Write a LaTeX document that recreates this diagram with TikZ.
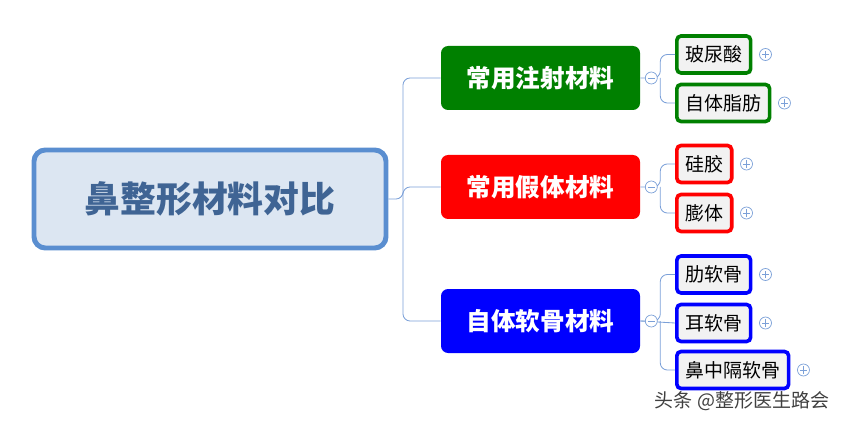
\documentclass[tikz,border=0pt]{standalone}
\usepackage{fontspec}
\setmainfont{Noto Sans CJK SC}
\usetikzlibrary{positioning}
\definecolor{rootfill}{HTML}{DCE6F2}
\definecolor{rootline}{HTML}{5A8ED0}
\definecolor{roottext}{HTML}{3F6494}
\definecolor{linkline}{HTML}{7BA0D8}
\definecolor{leaffill}{HTML}{F2F2F2}
\definecolor{mgreen}{HTML}{008000}
\definecolor{mred}{HTML}{FF0000}
\definecolor{mblue}{HTML}{0000FF}
\begin{document}
\begin{tikzpicture}[x=0.025cm, y=-0.025cm,
    rootbox/.style={rectangle, rounded corners=8pt, draw=rootline, line width=3.5pt, fill=rootfill,
        text=roottext, font=\fontsize{25.5}{28}\selectfont\bfseries},
    midbox/.style={rectangle, rounded corners=5pt, fill=#1, text=white, minimum width=199*0.025cm,
        minimum height=64*0.025cm, font=\fontsize{17.5}{20}\selectfont\bfseries},
    leafbox/.style={rectangle, rounded corners=3pt, draw=#1, line width=2.6pt, fill=leaffill,
        minimum height=37*0.025cm, anchor=west, inner xsep=6pt, font=\fontsize{13.5}{15}\selectfont},
    toggle/.style={circle, draw=linkline, fill=white, inner sep=0pt, minimum size=12*0.025cm, line width=0.5pt},
    link/.style={draw=linkline, line width=0.6pt, rounded corners=5pt}
]
    \useasboundingbox (0,0) rectangle (845,425);
    \node[rootbox, minimum width=352*0.025cm, minimum height=98*0.025cm] (root) at (210,199) {鼻整形材料对比};
    \node[midbox=mgreen] (inj) at (540.5,78) {常用注射材料};
    \node[midbox=mred] (imp) at (540.5,187) {常用假体材料};
    \node[midbox=mblue] (aut) at (540.5,321) {自体软骨材料};

    \draw[link] (root.east) -- (403,199) |- (inj.west);
    \draw[link] (403,199) |- (aut.west);
    \draw[link] (403,199) |- (imp.west);

    % leaves
    \node[leafbox=mgreen] (hya) at (675,54.5) {玻尿酸};
    \node[leafbox=mgreen] (fat) at (675,103) {自体脂肪};
    \node[leafbox=mred] (sil) at (675,164) {硅胶};
    \node[leafbox=mred] (pte) at (675,213) {膨体};
    \node[leafbox=mblue] (rib) at (675,274.5) {肋软骨};
    \node[leafbox=mblue] (ear) at (675,323) {耳软骨};
    \node[leafbox=mblue] (sep) at (675,370) {鼻中隔软骨};

    \foreach \m/\a/\b in {inj/hya/fat, imp/sil/pte, aut/rib/sep} {
        \draw[link] (\m.east) -- ++(20,0) coordinate (j) |- (\a.west);
        \draw[link] (j) |- (\b.west);
    }
    \draw[link] (aut.east) -- (ear.west);
    \foreach \m in {inj, imp, aut} {
        \node[toggle] (t\m) at ([xshift=11*0.025cm]\m.east) {};
        \draw[linkline, line width=0.5pt] ([xshift=-2.5pt]t\m.center) -- ([xshift=2.5pt]t\m.center);
    }
    \foreach \l in {hya, fat, sil, pte, rib, ear, sep} {
        \node[toggle] (p\l) at ([xshift=13*0.025cm]\l.east) {};
        \draw[linkline, line width=0.5pt] ([xshift=-2.5pt]p\l.center) -- ([xshift=2.5pt]p\l.center)
            ([yshift=-2.5pt]p\l.center) -- ([yshift=2.5pt]p\l.center);
    }
    \node[anchor=east, text=black!75, font=\fontsize{13.5}{15}\selectfont] (mark) at (834,401) {头条 @整形医生路会};
\end{tikzpicture}
\end{document}
